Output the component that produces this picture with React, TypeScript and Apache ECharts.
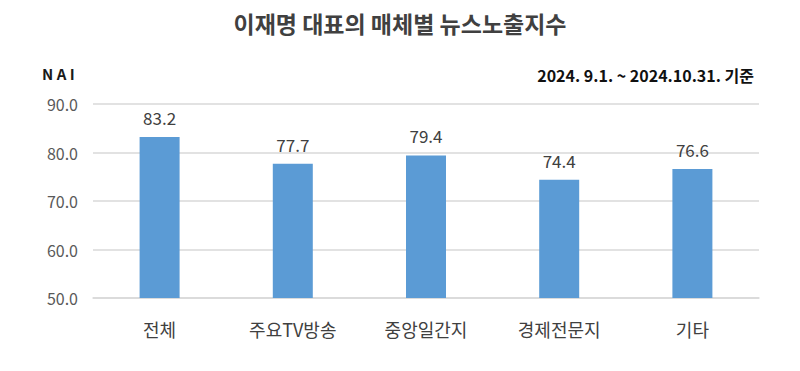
import React, { useEffect, useRef } from "react";
import * as echarts from "echarts";

const categories = ["전체", "주요TV방송", "중앙일간지", "경제전문지", "기타"];
const values = [83.2, 77.7, 79.4, 74.4, 76.6];
const yTicks = { min: 50, max: 90, interval: 10 };
const titleText = "이재명 대표의 매체별 뉴스노출지수";
const unitText = "N A I";
const periodText = "2024. 9.1. ~ 2024.10.31. 기준";

const FONT = "'Noto Sans CJK KR', 'Noto Sans', sans-serif";

export default function App() {
  const ref = useRef<HTMLDivElement>(null);
  useEffect(() => {
    if (!ref.current) return;
    const chart = echarts.init(ref.current, null, { renderer: "svg" });
    chart.setOption({
      animation: false,
      backgroundColor: "#ffffff",
      textStyle: { fontFamily: FONT },
      title: {
        text: titleText,
        left: "center",
        top: 6,
        textStyle: { fontSize: 23, fontWeight: "bold", color: "#404040", fontFamily: FONT },
      },
      graphic: [
        {
          type: "text",
          left: 42,
          top: 66,
          style: { text: unitText, fontSize: 15, fontWeight: "bold", fill: "#1a1a1a", fontFamily: FONT },
        },
        {
          type: "text",
          right: 46,
          top: 67,
          style: { text: periodText, fontSize: 16, fontWeight: "bold", fill: "#111111", fontFamily: FONT },
        },
      ],
      grid: { left: 93, right: 41, top: 104, bottom: 73, containLabel: false },
      xAxis: {
        type: "category",
        data: categories,
        axisLine: { show: true, lineStyle: { color: "#d9d9d9", width: 1.5 } },
        axisTick: { show: false },
        axisLabel: { color: "#404040", fontSize: 18, margin: 22, fontFamily: FONT },
      },
      yAxis: {
        type: "value",
        min: yTicks.min,
        max: yTicks.max,
        interval: yTicks.interval,
        axisLine: { show: false },
        axisTick: { show: false },
        splitLine: { lineStyle: { color: "#d9d9d9", width: 1.5 } },
        axisLabel: {
          color: "#595959",
          fontSize: 16,
          margin: 15,
          fontFamily: FONT,
          formatter: (v: number) => v.toFixed(1),
        },
      },
      series: [
        {
          type: "bar",
          data: values,
          barWidth: 40,
          itemStyle: { color: "#5B9BD5" },
          label: {
            show: true,
            position: "top",
            distance: 11,
            color: "#404040",
            fontSize: 17,
            fontFamily: FONT,
            formatter: (p: any) => Number(p.value).toFixed(1),
          },
        },
      ],
    });
    return () => chart.dispose();
  }, []);
  return <div ref={ref} style={{ width: 800, height: 371, margin: -8 }} />;
}
